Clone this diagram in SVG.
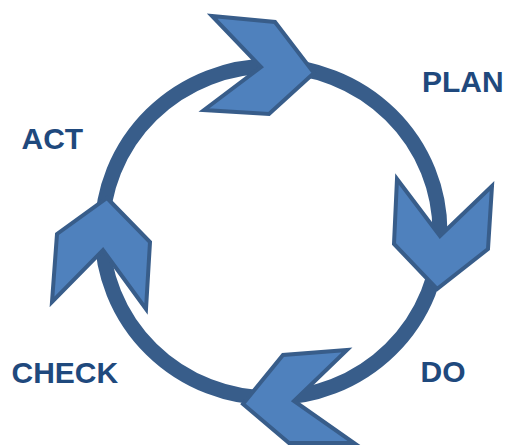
<svg xmlns="http://www.w3.org/2000/svg" width="507" height="447" viewBox="0 0 507 447">
  <style>
    .ring { fill: none; stroke: #385D8A; stroke-width: 15; }
    .chev { fill: #4F81BD; stroke: #385D8A; stroke-width: 4; stroke-linejoin: miter; }
    .lbl { font-family: "Liberation Sans", Arial, sans-serif; font-weight: bold; font-size: 30px; fill: #1F497D; }
  </style>
  <rect width="507" height="447" fill="#FFFFFF"/>
  <g id="connectors">
    <ellipse class="ring" cx="271" cy="232" rx="169" ry="166"/>
  </g>
  <g id="plan-arrow">
    <polygon class="chev" points="212,16 275,22 314,73 269,114 204,110 261,67"/>
  </g>
  <g id="do-arrow">
    <polygon class="chev" points="397,179 440,236 492,186 488,249 437,289 394,244"/>
  </g>
  <g id="check-arrow">
    <polygon class="chev" points="347,350 283,355 243,404 289,443 354,443 294,401"/>
  </g>
  <g id="act-arrow">
    <polygon class="chev" points="107,198 150,242 146,309 103,250 52,302 57,234"/>
  </g>
  <g id="plan"><text class="lbl" x="422" y="92">PLAN</text></g>
  <g id="do"><text class="lbl" x="420.5" y="382">DO</text></g>
  <g id="check"><text class="lbl" x="11.5" y="383">CHECK</text></g>
  <g id="act"><text class="lbl" x="21.5" y="149">ACT</text></g>
</svg>
